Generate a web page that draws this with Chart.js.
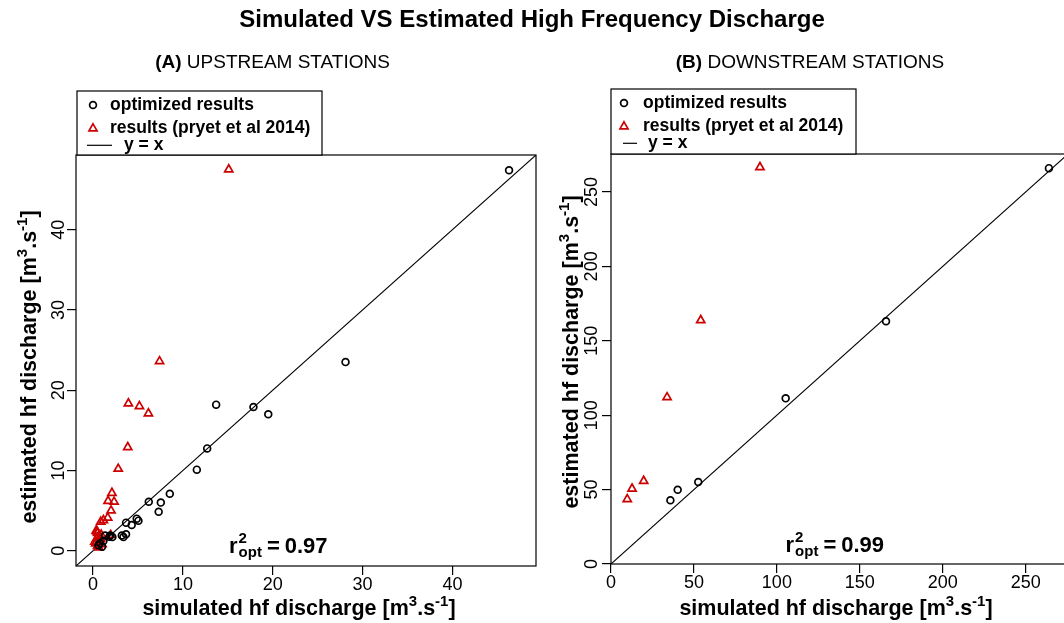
<!DOCTYPE html>
<html><head><meta charset="utf-8">
<script src="https://cdn.jsdelivr.net/npm/chart.js@4"></script>
<style>
html,body{margin:0;padding:0;background:#fff;overflow:hidden;width:1064px;height:623px}
canvas{position:absolute;left:0;top:0}
</style></head><body>
<canvas id="cA" width="1064" height="623"></canvas>
<canvas id="cB" width="1080" height="623"></canvas>
<script>
// ---------- DATA ----------
// (A) upstream stations
const optX_A = [46.3, 28.1, 13.7, 17.85, 19.5, 12.7, 11.55, 8.54, 7.54, 7.3, 6.2, 4.86, 5.05, 3.67, 3.67, 3.38, 3.2, 4.3, 2.15, 1.9, 1.34, 1.15, 1.0, 0.6, 0.78, 1.8];
const optY_A = [47.4, 23.5, 18.2, 17.9, 17.0, 12.75, 10.1, 7.1, 6.0, 4.86, 6.1, 4.0, 3.75, 3.5, 2.05, 1.7, 1.9, 3.2, 1.7, 1.9, 1.9, 1.2, 0.5, 0.67, 0.92, 1.75];
const pryX_A = [15.1, 7.4, 3.93, 5.16, 6.16, 3.86, 2.8, 2.1, 1.67, 2.34, 2.0, 1.63, 1.15, 0.85, 1.96, 0.5, 0.6, 0.4, 0.7, 0.3, 0.5, 0.8, 0.9, 1.0, 0.35, 0.65, 0.2, 0.45];
const pryY_A = [47.5, 23.6, 18.35, 18.0, 17.1, 12.9, 10.2, 7.2, 6.2, 6.1, 5.0, 4.1, 3.8, 3.6, 1.95, 2.2, 1.8, 1.5, 1.2, 0.9, 0.6, 1.5, 2.0, 0.8, 2.5, 0.4, 1.1, 2.4];
const xTicksA = [0, 10, 20, 30, 40];
const yTicksA = [0, 10, 20, 30, 40];
const rangeA = [-1.9, 49.3];
const diagA = [-1.9, 49.3];
const r2A = '0.97';

// (B) downstream stations
const optX_B = [264, 165.8, 105.3, 52.6, 40.2, 35.8];
const optY_B = [266, 163.1, 111.3, 55.1, 49.9, 42.8];
const pryX_B = [89.8, 54.1, 33.8, 19.7, 12.7, 9.8];
const pryY_B = [266.6, 163.8, 112, 55.8, 50.6, 43.5];
const xTicksB = [0, 50, 100, 150, 200, 250];
const yTicksB = [0, 50, 100, 150, 200, 250];
const rangeB = [0, 275.5];
const diagB = [0, 275.5];
const r2B = '0.99';

const mainTitle = 'Simulated VS Estimated High Frequency Discharge';
const legendLabels = ['optimized results', 'results (pryet et al 2014)', 'y = x'];
const xTitleMain = 'simulated hf discharge [m';
const yTitleMain = 'estimated hf discharge [m';

// ---------- STYLE ----------
const FONT = '"Liberation Sans", Arial, Helvetica, sans-serif';
const RED = '#CD0000';

function pts(xs, ys) { return xs.map((x, i) => ({x: x, y: ys[i]})); }
function f(size, bold) { return (bold ? 'bold ' : '') + size + 'px ' + FONT; }

function drawParts(ctx, parts, x, y) {
  let cx = x;
  parts.forEach(p => {
    ctx.font = f(p.s, p.b);
    ctx.fillText(p.t, cx, y + (p.dy || 0));
    cx += ctx.measureText(p.t).width;
  });
  return cx;
}
function partsWidth(ctx, parts) {
  let w = 0;
  parts.forEach(p => { ctx.font = f(p.s, p.b); w += ctx.measureText(p.t).width; });
  return w;
}
function axisTitleParts(main) {
  return [
    {t: main, s: 21.5, b: true},
    {t: '3', s: 15, b: true, dy: -9},
    {t: '.s', s: 21.5, b: true},
    {t: '-1', s: 15, b: true, dy: -9},
    {t: ']', s: 21.5, b: true}
  ];
}

function makePlugin(cfg) {
  return {
    id: 'txt' + cfg.id,
    beforeDatasetsDraw(chart) {
      const ctx = chart.ctx, a = chart.chartArea;
      ctx.save();
      ctx.strokeStyle = '#000';
      ctx.lineWidth = 1.2;
      ctx.strokeRect(a.left, a.top, a.right - a.left, a.bottom - a.top);
      ctx.restore();
    },
    afterDraw(chart) {
      const ctx = chart.ctx;
      ctx.save();
      ctx.fillStyle = '#000';
      ctx.textBaseline = 'alphabetic';
      ctx.textAlign = 'left';
      if (cfg.mainTitle) {
        ctx.font = f(24, true);
        ctx.textAlign = 'center';
        ctx.fillText(cfg.mainTitle, 532, 27);
        ctx.textAlign = 'left';
      }
      const pt = [{t: cfg.panelBold, s: 19, b: true}, {t: cfg.panelRest, s: 19, b: false}];
      const pw = partsWidth(ctx, pt);
      drawParts(ctx, pt, cfg.panelCx - pw / 2, 68);
      const xp = axisTitleParts(xTitleMain);
      const xw = partsWidth(ctx, xp);
      drawParts(ctx, xp, cfg.xTitleCx - xw / 2, 615);
      const yp = axisTitleParts(yTitleMain);
      const yw = partsWidth(ctx, yp);
      ctx.save();
      ctx.translate(cfg.yTitleX, cfg.yTitleCy);
      ctx.rotate(-Math.PI / 2);
      drawParts(ctx, yp, -yw / 2, 0);
      ctx.restore();
      // r^2 annotation
      const rx = cfg.r2x, ry = cfg.r2y;
      ctx.font = f(22, true);
      ctx.fillText('r', rx, ry);
      const sx = rx + ctx.measureText('r').width + 1;
      ctx.font = f(15, true);
      ctx.fillText('2', sx, ry - 10);
      ctx.fillText('opt', sx, ry + 4);
      let ex = sx + ctx.measureText('opt').width + 5;
      ctx.font = f(22, true);
      ctx.fillText('=', ex, ry);
      ex += ctx.measureText('=').width + 5;
      ctx.fillText(cfg.r2, ex, ry);
      // legend
      const L = cfg.legend;
      ctx.fillStyle = '#fff';
      ctx.fillRect(L.x0, L.y0, L.x1 - L.x0, L.y1 - L.y0);
      ctx.strokeStyle = '#000';
      ctx.lineWidth = 1.2;
      ctx.strokeRect(L.x0, L.y0, L.x1 - L.x0, L.y1 - L.y0);
      ctx.fillStyle = 'rgba(0,0,0,0)';
      ctx.strokeStyle = '#000';
      ctx.lineWidth = 1.7;
      Chart.helpers.drawPoint(ctx, {pointStyle: 'circle', radius: 3.4, borderWidth: 1.7, rotation: 0}, L.sx, L.b[0] - 5);
      ctx.strokeStyle = RED;
      Chart.helpers.drawPoint(ctx, {pointStyle: 'triangle', radius: 4.7, borderWidth: 1.7, rotation: 0}, L.sx, L.b[1] - 4.5);
      ctx.strokeStyle = '#000';
      ctx.lineWidth = 1.2;
      ctx.beginPath();
      ctx.moveTo(L.l0, L.b[2] - 4.2);
      ctx.lineTo(L.l1, L.b[2] - 4.2);
      ctx.stroke();
      ctx.fillStyle = '#000';
      ctx.font = f(17.5, true);
      ctx.fillText(legendLabels[0], L.tx, L.b[0]);
      ctx.fillText(legendLabels[1], L.tx, L.b[1]);
      ctx.fillText(legendLabels[2], L.yx, L.b[2]);
      ctx.restore();
    }
  };
}

function makeChart(canvasId, cfg) {
  const gridOpts = {drawOnChartArea: false, drawTicks: true, tickLength: 9, tickColor: '#000', tickWidth: 1.2, color: '#000', lineWidth: 1.2};
  return new Chart(document.getElementById(canvasId), {
    type: 'scatter',
    data: {
      datasets: [
        {label: legendLabels[0], data: pts(cfg.optX, cfg.optY), pointStyle: 'circle', pointRadius: 3.4,
         pointBorderWidth: 1.7, borderColor: '#000', pointBorderColor: '#000', pointBackgroundColor: 'rgba(0,0,0,0)', backgroundColor: 'rgba(0,0,0,0)'},
        {label: legendLabels[1], data: pts(cfg.pryX, cfg.pryY), pointStyle: 'triangle', pointRadius: 4.7,
         pointBorderWidth: 1.7, borderColor: RED, pointBorderColor: RED, pointBackgroundColor: 'rgba(0,0,0,0)', backgroundColor: 'rgba(0,0,0,0)'},
        {label: legendLabels[2], data: pts(cfg.diag, cfg.diag), showLine: true, borderColor: '#000', borderWidth: 1.1, pointRadius: 0}
      ]
    },
    options: {
      responsive: false,
      animation: false,
      events: [],
      devicePixelRatio: 1,
      layout: {padding: cfg.padding},
      plugins: {legend: {display: false}, tooltip: {enabled: false}, title: {display: false}},
      scales: {
        x: {
          type: 'linear', min: cfg.range[0], max: cfg.range[1],
          afterBuildTicks: s => { s.ticks = cfg.xTicks.map(v => ({value: v})); },
          afterFit: s => { s.height = cfg.xAxisH; },
          ticks: {font: {family: FONT, size: 18}, color: '#000', padding: -1, autoSkip: false, maxRotation: 0, minRotation: 0, callback: v => String(v)},
          grid: gridOpts, border: {display: false}
        },
        y: {
          type: 'linear', min: cfg.range[0], max: cfg.range[1],
          afterBuildTicks: s => { s.ticks = cfg.yTicks.map(v => ({value: v})); },
          afterFit: s => { s.width = cfg.yAxisW; },
          ticks: {font: {family: FONT, size: 18}, color: '#000', padding: cfg.yPad, autoSkip: false, minRotation: 90, maxRotation: 90, crossAlign: 'center', callback: v => String(v)},
          grid: gridOpts, border: {display: false}
        }
      }
    },
    plugins: [makePlugin(cfg)]
  });
}

makeChart('cA', {
  id: 'A', optX: optX_A, optY: optY_A, pryX: pryX_A, pryY: pryY_A, diag: diagA,
  range: rangeA, xTicks: xTicksA, yTicks: yTicksA,
  padding: {left: 0, top: 155, right: 1064 - 536, bottom: 0},
  xAxisH: 623 - 566, yAxisW: 76, yPad: -2,
  mainTitle: mainTitle,
  panelBold: '(A)', panelRest: ' UPSTREAM STATIONS', panelCx: 272.5,
  xTitleCx: 299, yTitleX: 36, yTitleCy: 367,
  r2: r2A, r2x: 229, r2y: 553,
  legend: {x0: 77, y0: 91, x1: 322, y1: 155, sx: 93, tx: 110, l0: 87, l1: 112, yx: 124, b: [110, 133, 149.5]}
});

makeChart('cB', {
  id: 'B', optX: optX_B, optY: optY_B, pryX: pryX_B, pryY: pryY_B, diag: diagB,
  range: rangeB, xTicks: xTicksB, yTicks: yTicksB,
  padding: {left: 0, top: 154, right: 1080 - 1068, bottom: 0},
  xAxisH: 623 - 564, yAxisW: 611, yPad: -5,
  mainTitle: null,
  panelBold: '(B)', panelRest: ' DOWNSTREAM STATIONS', panelCx: 810,
  xTitleCx: 836, yTitleX: 578, yTitleCy: 352,
  r2: r2B, r2x: 785.5, r2y: 552,
  legend: {x0: 611, y0: 89, x1: 856, y1: 154, sx: 624, tx: 643, l0: 623, l1: 637, yx: 648, b: [108, 131, 147.5]}
});
</script>
</body></html>
